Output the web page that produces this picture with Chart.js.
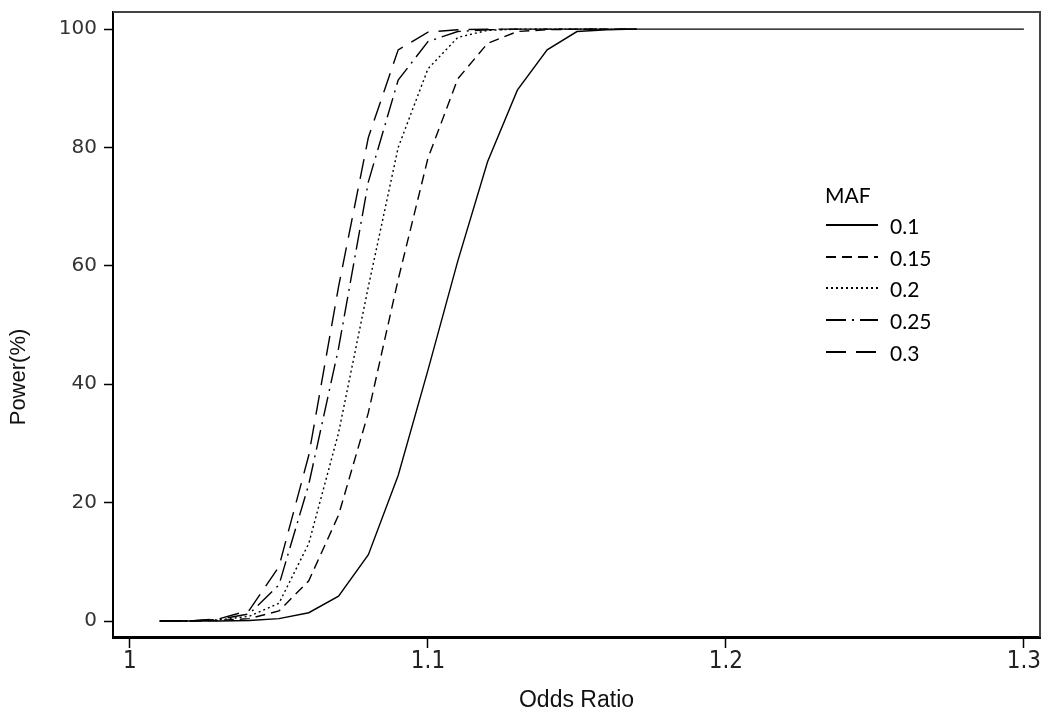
<!DOCTYPE html>
<html>
<head>
<meta charset="utf-8">
<script src="https://cdn.jsdelivr.net/npm/chart.js@4.4.1/dist/chart.umd.min.js"></script>
<style>
  html, body { margin: 0; padding: 0; background: #fff; }
  canvas { display: block; }
</style>
</head>
<body>
<canvas id="chart" width="1050" height="727"></canvas>
<script>
// Power curves by minor allele frequency (MAF)
const oddsRatio = [1.01, 1.02, 1.03, 1.04, 1.05, 1.06, 1.07, 1.08, 1.09, 1.10,
                   1.11, 1.12, 1.13, 1.14, 1.15, 1.16, 1.17, 1.18, 1.19, 1.20,
                   1.21, 1.22, 1.23, 1.24, 1.25, 1.26, 1.27, 1.28, 1.29, 1.30];

const power010 = [0, 0, 0, 0.1, 0.4, 1.4, 4.2, 11.2, 24.6, 42.4,
                  60.8, 77.6, 89.7, 96.5, 99.6, 99.9, 100, 100, 100, 100,
                  100, 100, 100, 100, 100, 100, 100, 100, 100, 100];
const power015 = [0, 0, 0.1, 0.4, 1.7, 6.8, 17.9, 35.2, 57.7, 78.2, 91.6, 97.6, 99.6, 99.9, 100, 100, 100];
const power020 = [0, 0, 0.2, 0.8, 3.0, 13.1, 31.8, 56.5, 80.0, 93.3, 98.6, 99.8, 100, 100, 100, 100, 100];
const power025 = [0, 0, 0.3, 1.2, 6.1, 23.1, 46.1, 74.2, 91.4, 97.9, 99.6, 99.9, 100, 100, 100, 100, 100];
const power030 = [0, 0, 0.4, 1.8, 9.2, 28.0, 56.5, 81.7, 96.5, 99.5, 99.9, 100, 100, 100, 100, 100, 100];

const mafLabels = ['0.1', '0.15', '0.2', '0.25', '0.3'];
const xTicks = [1, 1.1, 1.2, 1.3];
const yTicks = [0, 20, 40, 60, 80, 100];

const dashes = {
  '0.1': [],
  '0.15': [10, 6],
  '0.2': [2, 3],
  '0.25': [20, 6, 2, 6],
  '0.3': [20, 10]
};

function toPoints(values) {
  return values.map((v, i) => ({ x: oddsRatio[i], y: v }));
}

const seriesValues = [power010, power015, power020, power025, power030];

const datasets = mafLabels.map((label, i) => ({
  label: label,
  data: toPoints(seriesValues[i]),
  borderColor: '#000',
  borderWidth: 1.4,
  borderDash: dashes[label],
  pointRadius: 0,
  tension: 0,
  fill: false
}));

// Frame on top and right of the plot area, plus the y axis title
const framePlugin = {
  id: 'frame',
  afterDraw(chart) {
    const { ctx, chartArea: a } = chart;
    ctx.save();
    ctx.strokeStyle = '#444';
    ctx.lineWidth = 2;
    ctx.beginPath();
    ctx.moveTo(a.left, a.top);
    ctx.lineTo(a.right, a.top);
    ctx.lineTo(a.right, a.bottom);
    ctx.stroke();

    ctx.translate(19, 377);
    ctx.rotate(-Math.PI / 2);
    ctx.fillStyle = '#111';
    ctx.font = '22px "Liberation Sans", Arial';
    ctx.textAlign = 'center';
    ctx.textBaseline = 'middle';
    ctx.fillText('Power(%)', 0, 0);
    ctx.restore();
  }
};

// Legend inside the plot, drawn from the datasets
const insideLegend = {
  id: 'insideLegend',
  afterDatasetsDraw(chart) {
    const ctx = chart.ctx;
    const x0 = 826, lineEnd = 878, textX = 890;
    const rowY = [225, 257, 288, 320, 352];
    ctx.save();
    ctx.fillStyle = '#000';
    ctx.font = '21px Lato, "Open Sans", sans-serif';
    ctx.textBaseline = 'middle';
    ctx.textAlign = 'left';
    ctx.fillText('MAF', x0 - 1, 196);
    chart.data.datasets.forEach((ds, i) => {
      ctx.beginPath();
      ctx.setLineDash(ds.borderDash);
      ctx.lineWidth = 2;
      ctx.strokeStyle = '#000';
      ctx.moveTo(x0, rowY[i]);
      ctx.lineTo(lineEnd, rowY[i]);
      ctx.stroke();
      ctx.setLineDash([]);
      ctx.fillText(ds.label, textX, rowY[i] + 2);
    });
    ctx.restore();
  }
};

new Chart(document.getElementById('chart'), {
  type: 'line',
  data: { datasets },
  options: {
    responsive: false,
    animation: false,
    layout: { padding: { left: 0, top: 12, right: 10, bottom: 0 } },
    plugins: {
      legend: { display: false },
      tooltip: { enabled: false }
    },
    scales: {
      x: {
        type: 'linear',
        min: 0.9943,
        max: 1.3054,
        afterBuildTicks: scale => { scale.ticks = xTicks.map(v => ({ value: v })); },
        afterFit: scale => { scale.height = 90; scale.paddingLeft = 0; scale.paddingRight = 0; },
        grid: { drawOnChartArea: false, drawTicks: true, tickLength: 11, tickColor: '#000', tickWidth: 1.5 },
        border: { display: true, color: '#000', width: 3 },
        ticks: {
          padding: 2,
          color: '#222',
          maxRotation: 0,
          font: { family: '"Liberation Sans Narrow", "DejaVu Sans Condensed", "Liberation Sans", Arial', size: 24, lineHeight: 1 },
          callback: v => String(v)
        },
        title: {
          display: true,
          text: 'Odds Ratio',
          color: '#111',
          font: { family: '"Liberation Sans", Arial', size: 23 },
          padding: { top: 0, bottom: 13 }
        }
      },
      y: {
        type: 'linear',
        min: -2.7,
        max: 102.9,
        afterBuildTicks: scale => { scale.ticks = yTicks.map(v => ({ value: v })); },
        afterFit: scale => { scale.width = 113; scale.paddingTop = 0; scale.paddingBottom = 0; },
        grid: { drawOnChartArea: false, drawTicks: true, tickLength: 9, tickColor: '#000', tickWidth: 1.5 },
        border: { display: true, color: '#000', width: 2 },
        ticks: {
          padding: 7,
          color: '#333',
          font: { family: '"DejaVu Sans", Verdana', size: 20 }
        },
        title: { display: false }
      }
    }
  },
  plugins: [framePlugin, insideLegend]
});
</script>
</body>
</html>
